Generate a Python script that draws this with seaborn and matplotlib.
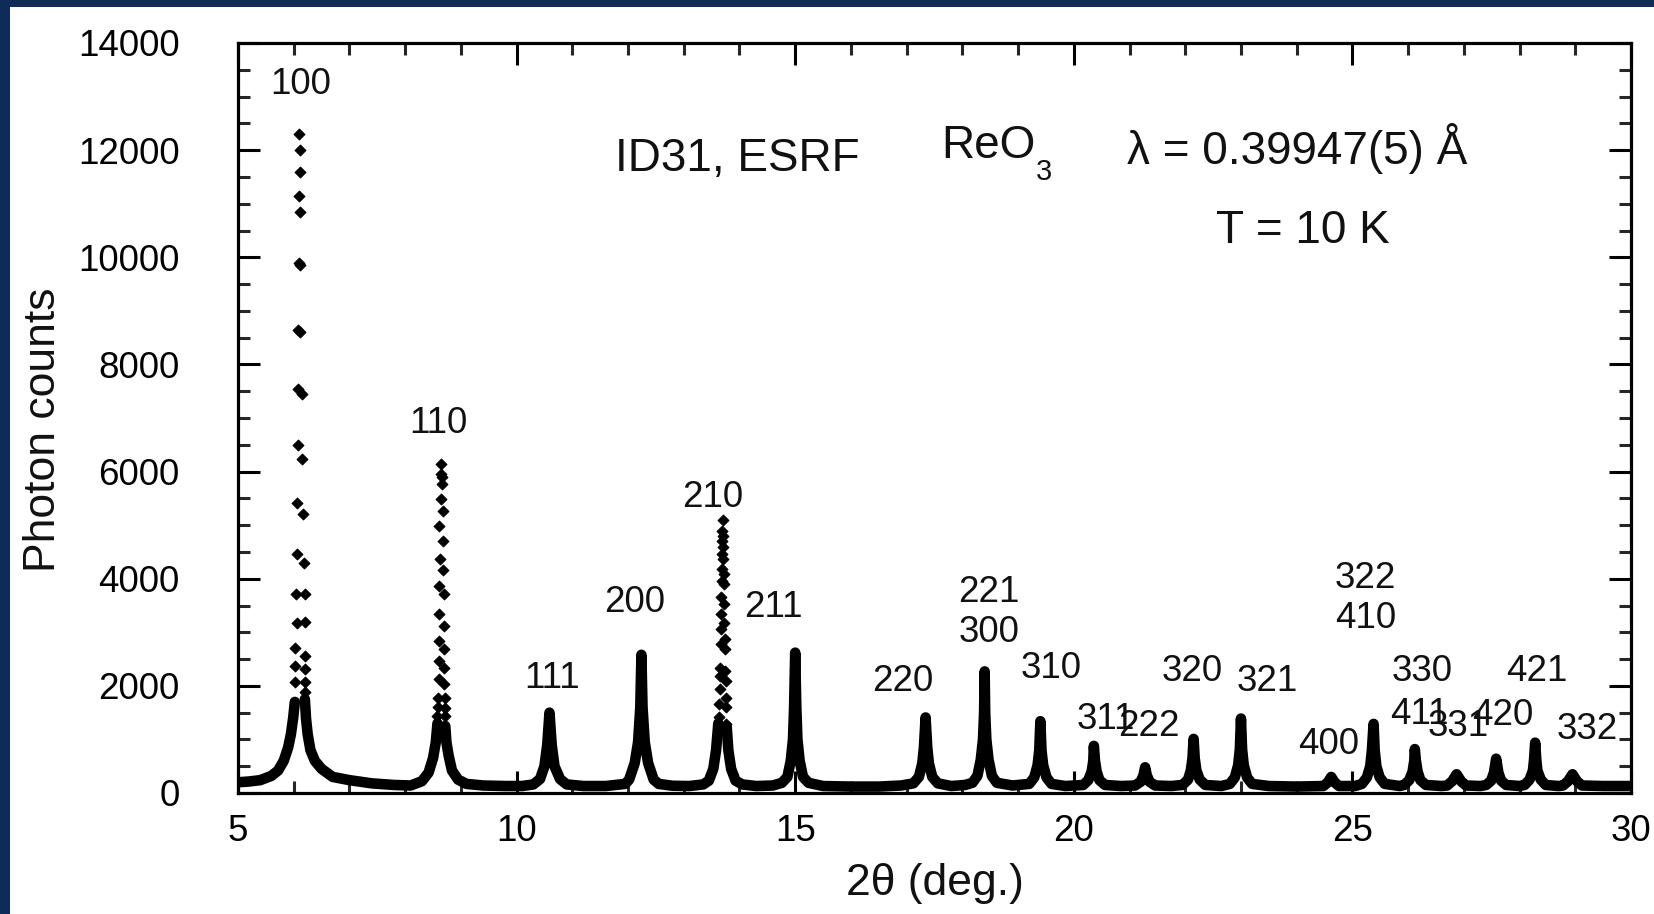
import numpy as np
import pandas as pd
import matplotlib
matplotlib.use("Agg")
import matplotlib.pyplot as plt
from matplotlib.patches import Rectangle
from matplotlib.ticker import MultipleLocator
import seaborn as sns

# ---------------- data ----------------
# continuous (dense) part of the scan, split where only discrete points are visible
band1_2theta = [5.00, 5.20, 5.40, 5.60, 5.72, 5.82, 5.90, 5.95, 5.99, 6.02]
band1_counts = [200, 215, 240, 320, 420, 600, 850, 1100, 1400, 1700]

band2_2theta = [6.20, 6.22, 6.25, 6.30, 6.38, 6.50, 6.70, 7.00, 7.40, 7.80, 8.10,
                8.30, 8.42, 8.50, 8.55, 8.58]
band2_counts = [1750, 1400, 1100, 800, 600, 450, 300, 240, 180, 150, 140,
                220, 380, 650, 950, 1300]

band3_2theta = [8.72, 8.74, 8.78, 8.84, 8.95, 9.10, 9.40, 9.80, 10.10,
                10.30, 10.42, 10.50, 10.55, 10.59, 10.63, 10.68, 10.78, 10.90, 11.20, 11.60, 11.95,
                12.02, 12.12, 12.18, 12.22, 12.24, 12.26, 12.30, 12.36, 12.46, 12.55, 12.80, 13.10, 13.35,
                13.45, 13.53, 13.58, 13.62]
band3_counts = [1250, 950, 700, 420, 250, 170, 140, 130, 130,
                160, 260, 500, 900, 1500, 900, 500, 260, 160, 130, 130, 170,
                250, 560, 950, 1600, 2580, 1600, 950, 560, 250, 170, 135, 130, 160,
                230, 450, 800, 1300]

band4_2theta = [13.77, 13.80, 13.85, 13.93, 14.05, 14.30, 14.60,
                14.76, 14.86, 14.92, 14.96, 14.98, 15.00, 15.02, 15.04, 15.08, 15.14, 15.24, 15.50, 16.00, 16.50, 16.90,
                17.12, 17.22, 17.28, 17.31, 17.34, 17.37, 17.40, 17.46, 17.56, 17.80, 18.05,
                18.18, 18.27, 18.33, 18.37, 18.39, 18.40, 18.41, 18.43, 18.47, 18.53, 18.62, 18.90,
                19.20, 19.29, 19.35, 19.38, 19.40, 19.42, 19.45, 19.51, 19.60, 19.85,
                20.17, 20.26, 20.32, 20.35, 20.36, 20.38, 20.41, 20.46, 20.56, 20.85,
                21.10, 21.20, 21.25, 21.28, 21.31, 21.36, 21.46, 21.75,
                21.95, 22.05, 22.10, 22.13, 22.15, 22.17, 22.20, 22.26, 22.36, 22.65,
                22.80, 22.89, 22.95, 22.98, 23.00, 23.02, 23.05, 23.11, 23.20, 23.50, 24.00, 24.40,
                24.48, 24.56, 24.62, 24.68, 24.76, 25.05,
                25.17, 25.26, 25.32, 25.35, 25.38, 25.40, 25.43, 25.49, 25.58, 25.85,
                25.93, 26.02, 26.08, 26.11, 26.12, 26.14, 26.17, 26.22, 26.32, 26.60,
                26.70, 26.79, 26.87, 26.95, 27.04, 27.30,
                27.40, 27.49, 27.54, 27.58, 27.62, 27.67, 27.76, 28.00,
                28.09, 28.18, 28.24, 28.26, 28.28, 28.30, 28.32, 28.38, 28.47, 28.70,
                28.78, 28.87, 28.95, 29.03, 29.12, 29.50, 30.00]
band4_counts = [1250, 800, 450, 230, 160, 130, 140,
                190, 300, 600, 1000, 1600, 2620, 1600, 1000, 600, 300, 190, 130, 120, 120, 140,
                180, 300, 550, 850, 1410, 850, 550, 300, 180, 130, 150,
                190, 320, 620, 1000, 1500, 2270, 1500, 1000, 620, 320, 190, 140,
                170, 290, 520, 800, 1340, 800, 520, 290, 170, 130,
                150, 240, 400, 600, 880, 600, 400, 240, 150, 130,
                140, 210, 330, 480, 330, 210, 140, 130,
                150, 250, 420, 650, 1010, 650, 420, 250, 150, 130,
                170, 290, 520, 820, 1390, 820, 520, 290, 170, 130, 120, 130,
                130, 200, 300, 200, 130, 130,
                170, 290, 500, 800, 1290, 800, 500, 290, 170, 130,
                150, 240, 400, 600, 820, 600, 400, 240, 150, 130,
                140, 220, 350, 220, 140, 130,
                150, 230, 380, 640, 380, 230, 150, 130,
                150, 250, 420, 620, 940, 620, 420, 250, 150, 130,
                140, 220, 350, 220, 140, 130, 130]

# discrete points near the tops of the strongest reflections (100, 110, 210)
top_2theta = [6.10, 6.11, 6.11, 6.10, 6.12, 6.09, 6.12, 6.08, 6.12, 6.08, 6.14,
              6.08, 6.15, 6.06, 6.17, 6.05, 6.18, 6.04, 6.20, 6.05, 6.20, 6.03,
              6.20, 6.03, 6.21, 6.03, 6.21, 6.21,
              8.65, 8.65, 8.67, 8.67, 8.65, 8.68, 8.61, 8.68, 8.62, 8.68, 8.61,
              8.69, 8.60, 8.70, 8.60, 8.69, 8.60, 8.69, 8.60, 8.70, 8.59, 8.71,
              8.59, 8.71, 8.58, 8.71,
              13.70, 13.69, 13.71, 13.69, 13.71, 13.69, 13.70, 13.68, 13.72, 13.68,
              13.72, 13.67, 13.72, 13.67, 13.73, 13.66, 13.74, 13.66, 13.74, 13.65,
              13.74, 13.65, 13.75, 13.65, 13.75, 13.64, 13.75, 13.64, 13.76]
top_counts = [12300, 12000, 11600, 11150, 10850, 9900, 9850, 8650, 8600, 7550, 7450,
              6500, 6240, 5410, 5210, 4460, 4290, 3720, 3710, 3170, 3200, 2700,
              2560, 2370, 2320, 2070, 2070, 1890,
              6150, 5960, 5900, 5770, 5490, 5260, 4990, 4700, 4370, 4160, 3870,
              3710, 3350, 3120, 2840, 2690, 2470, 2340, 2120, 2030, 1780, 1780,
              1600, 1590, 1440, 1440,
              5100, 4900, 4800, 4710, 4600, 4460, 4370, 4180, 4090, 3960,
              3900, 3650, 3530, 3340, 3180, 3060, 2870, 2780, 2690, 2340,
              2280, 2190, 2090, 1940, 1780, 1660, 1600, 1410, 1280]

# reflection labels (Miller indices) and where they are written (data coords, baseline)
hkl_labels = ["100", "110", "111", "200", "210", "211", "220", "221", "300",
              "310", "311", "222", "320", "321", "400", "322", "410",
              "330", "411", "331", "420", "421", "332"]
hkl_x = [6.13, 8.59, 10.64, 12.11, 13.52, 14.60, 16.93, 18.48, 18.48,
         19.59, 20.58, 21.35, 22.12, 23.47, 24.58, 25.24, 25.24,
         26.25, 26.20, 26.89, 27.70, 28.31, 29.21]
hkl_y = [13048, 6720, 1960, 3379, 5339, 3285, 1904, 3565, 2819,
         2147, 1195, 1064, 2091, 1904, 728, 3827, 3080,
         2091, 1288, 1064, 1269, 2091, 1008]

x_ticks = [5, 10, 15, 20, 25, 30]
y_ticks = [0, 2000, 4000, 6000, 8000, 10000, 12000, 14000]

# ---------------- tables ----------------
bands = [(band1_2theta, band1_counts), (band2_2theta, band2_counts),
         (band3_2theta, band3_counts), (band4_2theta, band4_counts)]
band_df = pd.concat(
    [pd.DataFrame({"two_theta": bx, "counts": by, "segment": i})
     for i, (bx, by) in enumerate(bands)], ignore_index=True)
top_df = pd.DataFrame({"two_theta": top_2theta, "counts": top_counts})

# ---------------- figure ----------------
sns.set_theme(style="ticks")
plt.rcParams["font.family"] = ["Liberation Sans", "DejaVu Sans"]
plt.rcParams["axes.linewidth"] = 2.3

W, H = 1654, 914
fig = plt.figure(figsize=(W / 100, H / 100), dpi=100)
fig.patch.set_facecolor("white")
ax = fig.add_axes([238 / W, 1 - 793 / H, (1631 - 238) / W, (793 - 43) / H])

sns.lineplot(data=band_df, x="two_theta", y="counts", units="segment",
             estimator=None, sort=False, color="black", lw=7.6,
             solid_capstyle="round", solid_joinstyle="round", ax=ax, zorder=2)
sns.scatterplot(data=top_df, x="two_theta", y="counts", marker="D", s=30,
                color="black", edgecolor="black", linewidth=0.8, ax=ax, zorder=3)

ax.set_xlim(5, 30)
ax.set_ylim(0, 14000)
ax.set_xticks(x_ticks)
ax.set_yticks(y_ticks)
ax.xaxis.set_minor_locator(MultipleLocator(1))
ax.yaxis.set_minor_locator(MultipleLocator(500))
ax.tick_params(axis="both", which="major", direction="in", length=15.5, width=2.2,
               top=True, right=True, labelsize=26.5, colors="black")
ax.tick_params(axis="both", which="minor", direction="in", length=8.5, width=2.2,
               top=True, right=True)
ax.tick_params(axis="y", which="major", pad=42)
ax.tick_params(axis="x", which="major", pad=15)
for sp in ax.spines.values():
    sp.set_color("black")
    sp.set_linewidth(2.3)

ax.set_xlabel("2θ (deg.)", fontsize=32, color="#111111")
ax.set_ylabel("Photon counts", fontsize=32, color="#111111")
ax.xaxis.set_label_coords(0.5, (793 - 884) / 750)
ax.xaxis.label.set_va("center")
ax.yaxis.set_label_coords((44 - 238) / 1393, (793 - 430) / 750)
ax.yaxis.label.set_va("center")

for lab, lx, ly in zip(hkl_labels, hkl_x, hkl_y):
    ax.text(lx, ly, lab, fontsize=26.5, ha="center", va="baseline", color="#111111")

ax.text(13.97, 11611, "ID31, ESRF", fontsize=33, ha="center", va="baseline", color="#111111")
ax.text(17.63, 11854, "ReO", fontsize=33, ha="left", va="baseline", color="#111111")
ax.text(19.32, 11452, "3", fontsize=21, ha="left", va="baseline", color="#111111")
ax.text(24.01, 11742, "λ = 0.39947(5) Å", fontsize=33, ha="center", va="baseline", color="#111111")
ax.text(24.11, 10267, "T = 10 K", fontsize=33, ha="center", va="baseline", color="#111111")

# navy frame of the original slide
navy = "#0f2b57"
fig.add_artist(Rectangle((0, 1 - 7 / H), 1, 7 / H, transform=fig.transFigure,
                         facecolor=navy, edgecolor="none"))
fig.add_artist(Rectangle((0, 0), 10 / W, 1, transform=fig.transFigure,
                         facecolor=navy, edgecolor="none"))

fig.savefig("out.png", dpi=100)
